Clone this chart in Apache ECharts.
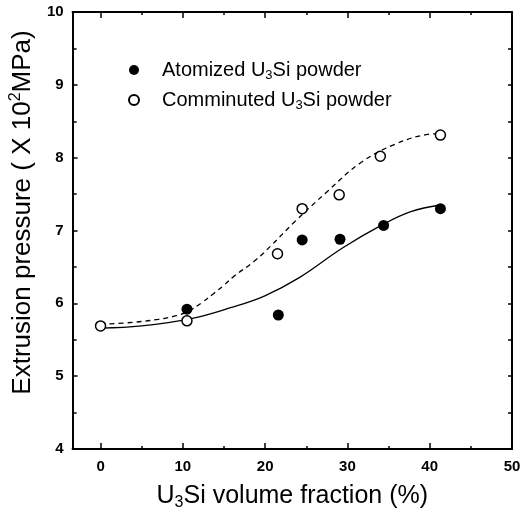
<!DOCTYPE html>
<html>
<head>
<meta charset="utf-8">
<script src="https://cdn.jsdelivr.net/npm/echarts@6/dist/echarts.min.js"></script>
<style>
  html, body { margin: 0; padding: 0; background: #fff; }
  #chart { width: 532px; height: 516px; }
</style>
</head>
<body>
<div id="chart"></div>
<script>
// measured points
const atomX = [10.5, 21.6, 24.5, 29.1, 34.4, 41.3]
const atomY = [5.92, 5.84, 6.87, 6.88, 7.07, 7.30]
const commX = [0, 10.5, 21.5, 24.5, 29.0, 34.0, 41.3]
const commY = [5.69, 5.76, 6.68, 7.30, 7.49, 8.02, 8.31]

// fitted curves
const fitAtomX = [0, 5, 11, 15.8, 19.9, 24.1, 29.4, 34.1, 37.7, 41.3]
const fitAtomY = [5.66, 5.69, 5.79, 5.94, 6.10, 6.35, 6.76, 7.07, 7.26, 7.35]
const fitCommX = [0, 4, 7, 9.2, 10.8, 12.3, 13.8, 15, 16.2, 18.7, 20.7, 23.5, 27.6, 31.6, 35.7, 39.8, 41.3]
const fitCommY = [5.71, 5.74, 5.78, 5.83, 5.90, 6.01, 6.14, 6.25, 6.37, 6.58, 6.79, 7.11, 7.54, 7.93, 8.18, 8.32, 8.33]

const xMajor = [0, 10, 20, 30, 40, 50]
const xMinor = [5, 15, 25, 35, 45]

const pairs = (xs, ys) => xs.map((x, i) => [x, ys[i]])

const FONT = 'Liberation Sans'
const xNameRich = {
  n: { fontSize: 25, fontFamily: FONT, lineHeight: 30, color: '#000' },
  s: { fontSize: 16, fontFamily: FONT, lineHeight: 14, verticalAlign: 'bottom', color: '#000' }
}
const yNameRich = {
  n: { fontSize: 26, fontFamily: FONT, lineHeight: 30, color: '#000' },
  p: { fontSize: 16, fontFamily: FONT, lineHeight: 14, verticalAlign: 'top', color: '#000' }
}
const legendRich = {
  n: { fontSize: 20, fontFamily: FONT, lineHeight: 24, color: '#000' },
  s: { fontSize: 13, fontFamily: FONT, lineHeight: 10, verticalAlign: 'bottom', color: '#000' }
}
const tickFont = { fontSize: 15, fontWeight: 'bold', fontFamily: FONT, color: '#000' }

const X_MIN = -3.4
const X_MAX = 50

function xAxisBase(extra) {
  return Object.assign({
    type: 'value',
    min: X_MIN,
    max: X_MAX,
    splitLine: { show: false },
    axisLabel: { show: false },
    axisLine: { show: false }
  }, extra)
}

const chart = echarts.init(document.getElementById('chart'))

chart.setOption({
  animation: false,
  backgroundColor: '#fff',
  grid: { left: 72, right: 20, top: 12, bottom: 66, containLabel: false },
  legend: {
    orient: 'vertical',
    left: 123,
    top: 55,
    itemWidth: 10,
    itemHeight: 10,
    itemGap: 8,
    data: ['Atomized U3Si powder', 'Comminuted U3Si powder'],
    formatter: name => name.split(' ').map(w =>
      w === 'U3Si' ? '{n|U}{s|3}{n|Si}' : '{n|' + w + '}'
    ).join('{n| }'),
    textStyle: { padding: [0, 0, 0, 18], rich: legendRich }
  },
  xAxis: [
    xAxisBase({
      position: 'bottom',
      axisLine: { show: true, onZero: false, lineStyle: { color: '#000', width: 2 } },
      axisTick: { show: true, inside: true, length: 6, customValues: xMajor, lineStyle: { color: '#000', width: 1.5 } },
      axisLabel: Object.assign({ show: true, customValues: xMajor, margin: 10 }, tickFont),
      name: '{n|U}{s|3}{n|Si volume fraction (%)}',
      nameLocation: 'middle',
      nameGap: 32,
      nameTextStyle: { rich: xNameRich }
    }),
    xAxisBase({
      position: 'bottom',
      axisTick: { show: true, inside: true, length: 3, customValues: xMinor, lineStyle: { color: '#000', width: 1.5 } }
    }),
    xAxisBase({
      position: 'top',
      axisLine: { show: true, onZero: false, lineStyle: { color: '#000', width: 2 } },
      axisTick: { show: true, inside: true, length: 6, customValues: xMajor, lineStyle: { color: '#000', width: 1.5 } }
    }),
    xAxisBase({
      position: 'top',
      axisTick: { show: true, inside: true, length: 3, customValues: xMinor, lineStyle: { color: '#000', width: 1.5 } }
    })
  ],
  yAxis: [
    {
      type: 'value',
      position: 'left',
      min: 4,
      max: 10,
      interval: 1,
      splitLine: { show: false },
      axisLine: { show: true, onZero: false, lineStyle: { color: '#000', width: 2 } },
      axisTick: { show: true, inside: true, length: 5, lineStyle: { color: '#000', width: 1.5 } },
      minorTick: { show: true, splitNumber: 2, length: 4, lineStyle: { color: '#000', width: 1.5 } },
      axisLabel: Object.assign({ margin: 9 }, tickFont),
      name: '{n|Extrusion pressure ( X 10}{p|2}{n|MPa)}',
      nameLocation: 'middle',
      nameGap: 32,
      nameTextStyle: { rich: yNameRich, padding: [0, 0, 0, 36] }
    },
    {
      type: 'value',
      position: 'right',
      min: 4,
      max: 10,
      interval: 1,
      splitLine: { show: false },
      axisLine: { show: true, onZero: false, lineStyle: { color: '#000', width: 2 } },
      axisTick: { show: true, inside: true, length: 4, lineStyle: { color: '#000', width: 1.5 } },
      minorTick: { show: true, splitNumber: 2, length: 4, lineStyle: { color: '#000', width: 1.5 } },
      axisLabel: { show: false }
    }
  ],
  series: [
    {
      name: 'Atomized fit',
      type: 'line',
      smooth: 0.4,
      showSymbol: false,
      symbol: 'none',
      lineStyle: { color: '#000', width: 1.3 },
      data: pairs(fitAtomX, fitAtomY),
      z: 2
    },
    {
      name: 'Comminuted fit',
      type: 'line',
      smooth: 0.4,
      showSymbol: false,
      symbol: 'none',
      lineStyle: { color: '#000', width: 1.3, type: [5, 4] },
      data: pairs(fitCommX, fitCommY),
      z: 2
    },
    {
      name: 'Atomized U3Si powder',
      type: 'scatter',
      symbol: 'circle',
      symbolSize: 11,
      itemStyle: { color: '#000', opacity: 1 },
      data: pairs(atomX, atomY),
      z: 3
    },
    {
      name: 'Comminuted U3Si powder',
      type: 'scatter',
      symbol: 'circle',
      symbolSize: 10,
      itemStyle: { color: '#fff', borderColor: '#000', borderWidth: 1.5, opacity: 1 },
      data: pairs(commX, commY),
      z: 3
    }
  ]
})
</script>
</body>
</html>
